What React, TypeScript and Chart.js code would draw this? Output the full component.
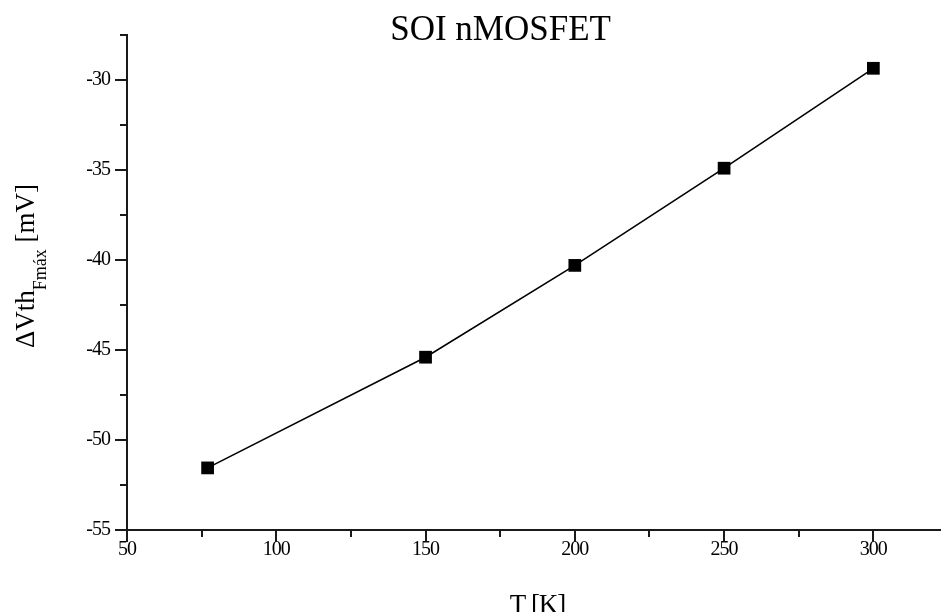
import React, { useEffect, useRef } from "react";
import { Chart, registerables } from "chart.js";

Chart.register(...registerables);

// ---- data ----
const temperatures = [77, 150, 200, 250, 300];
const deltaVth = [-51.55, -45.4, -40.3, -34.9, -29.35];

const chartTitle = "SOI nMOSFET";
const xTitle = "T [K]";
const yTitleMain = "\u0394Vth";
const yTitleSub = "Fm\u00e1x";
const yTitleTail = " [mV]";

const xMin = 50;
const xMax = 325;
const xMajorStep = 50;
const xMinorStep = 25;
const yMin = -55;
const yMax = -27.5;
const yMajorStep = 5;
const yMinorStep = 2.5;

const SERIF = "'Liberation Serif', 'Times New Roman', serif";
const AXIS_COLOR = "#1a1a1a";

const letterSpacingPlugin = {
  id: "tightLabels",
  beforeDraw(chart: any) {
    const ctx = chart.ctx;
    if ("letterSpacing" in ctx) ctx.letterSpacing = "-1px";
  },
  afterDraw(chart: any) {
    const ctx = chart.ctx;
    if ("letterSpacing" in ctx) ctx.letterSpacing = "0px";
  },
};

const tickMarksPlugin = {
  id: "tickMarks",
  afterDraw(chart: any) {
    const { ctx, chartArea } = chart;
    const xs = chart.scales.x;
    const ys = chart.scales.y;
    ctx.save();
    ctx.strokeStyle = AXIS_COLOR;
    ctx.lineWidth = 2;
    for (let v = xMin; v <= xMax + 1e-9; v += xMinorStep) {
      const major = Math.abs(v / xMajorStep - Math.round(v / xMajorStep)) < 1e-6;
      const len = major ? 12 : 7;
      const px = Math.round(xs.getPixelForValue(v));
      ctx.beginPath();
      ctx.moveTo(px, chartArea.bottom);
      ctx.lineTo(px, chartArea.bottom + len);
      ctx.stroke();
    }
    for (let v = yMin; v <= yMax + 1e-9; v += yMinorStep) {
      const major = Math.abs(v / yMajorStep - Math.round(v / yMajorStep)) < 1e-6;
      const len = major ? 12 : 7;
      const py = Math.round(ys.getPixelForValue(v));
      ctx.beginPath();
      ctx.moveTo(chartArea.left, py);
      ctx.lineTo(chartArea.left - len, py);
      ctx.stroke();
    }
    ctx.restore();
  },
};

const titlesPlugin = {
  id: "customTitles",
  afterDraw(chart: any) {
    const { ctx, chartArea } = chart;
    ctx.save();
    if ("letterSpacing" in ctx) ctx.letterSpacing = "0px";
    ctx.fillStyle = "#000";
    ctx.font = `35px ${SERIF}`;
    ctx.textAlign = "center";
    ctx.textBaseline = "alphabetic";
    const tx = chartArea.left + (chartArea.right - chartArea.left) * 0.455;
    ctx.fillText(chartTitle, tx, 40);

    ctx.translate(34, 348);
    ctx.rotate(-Math.PI / 2);
    ctx.textAlign = "left";
    ctx.font = `27px ${SERIF}`;
    ctx.fillText(yTitleMain, 0, 0);
    let off = ctx.measureText(yTitleMain).width;
    ctx.font = `18px ${SERIF}`;
    ctx.fillText(yTitleSub, off, 12);
    off += ctx.measureText(yTitleSub).width;
    ctx.font = `27px ${SERIF}`;
    ctx.fillText(yTitleTail, off, 0);
    ctx.restore();
  },
};

export default function App() {
  const canvasRef = useRef<HTMLCanvasElement | null>(null);

  useEffect(() => {
    if (!canvasRef.current) return;
    const points = temperatures.map((t, i) => ({ x: t, y: deltaVth[i] }));
    const chart = new Chart(canvasRef.current, {
      type: "scatter",
      data: {
        datasets: [
          {
            label: chartTitle,
            data: points,
            showLine: true,
            borderColor: "#000",
            borderWidth: 1.6,
            backgroundColor: "#000",
            pointStyle: "rect",
            pointRadius: 9,
            pointBorderWidth: 0,
            pointBackgroundColor: "#000",
          },
        ],
      },
      options: {
        responsive: false,
        animation: false,
        layout: { padding: { top: 35, right: 12, bottom: 0, left: 0 } },
        plugins: {
          legend: { display: false },
          tooltip: { enabled: false },
          title: { display: false },
        },
        scales: {
          x: {
            type: "linear",
            min: xMin,
            max: xMax,
            grid: { display: false, drawTicks: false, tickLength: 0 },
            border: { display: true, color: AXIS_COLOR, width: 2 },
            ticks: {
              stepSize: xMajorStep,
              includeBounds: false,
              padding: 8,
              color: "#000",
              font: { family: SERIF, size: 20 },
              maxRotation: 0,
            },
            title: {
              display: true,
              text: xTitle,
              color: "#000",
              font: { family: SERIF, size: 27 },
              padding: { top: 0, bottom: -10 },
            },
            afterFit: (scale: any) => {
              scale.height = 82;
            },
          },
          y: {
            type: "linear",
            min: yMin,
            max: yMax,
            grid: { display: false, drawTicks: false, tickLength: 0 },
            border: { display: true, color: AXIS_COLOR, width: 2 },
            ticks: {
              stepSize: yMajorStep,
              includeBounds: false,
              padding: 17,
              color: "#000",
              font: { family: SERIF, size: 20 },
            },
            afterFit: (scale: any) => {
              scale.width = 127;
            },
          },
        },
      },
      plugins: [letterSpacingPlugin, tickMarksPlugin, titlesPlugin],
    });
    return () => chart.destroy();
  }, []);

  return (
    <div
      style={{
        position: "absolute",
        left: 0,
        top: 0,
        width: 941,
        height: 612,
        overflow: "hidden",
        background: "#fff",
      }}
    >
      <canvas ref={canvasRef} width={960} height={612} style={{ display: "block" }} />
    </div>
  );
}
